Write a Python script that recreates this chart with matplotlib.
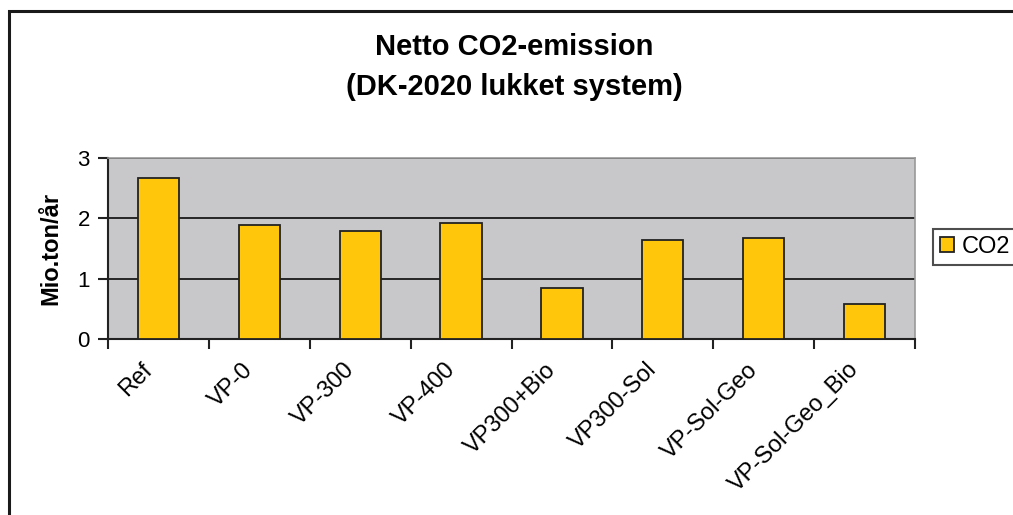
import matplotlib.pyplot as plt
from matplotlib.patches import Rectangle
from matplotlib.transforms import ScaledTranslation
import numpy as np

plt.rcParams["font.family"] = ["Liberation Sans", "DejaVu Sans"]

categories = ["Ref", "VP-0", "VP-300", "VP-400", "VP300+Bio",
              "VP300-Sol", "VP-Sol-Geo", "VP-Sol-Geo_Bio"]
co2 = [2.67, 1.89, 1.79, 1.92, 0.85, 1.64, 1.67, 0.58]
yticks = [0, 1, 2, 3]

fig = plt.figure(figsize=(10.13, 5.15), dpi=100)
fig.patch.set_facecolor("white")

# outer chart frame (cut off at right and bottom as in the source)
fig.patches.append(Rectangle((9 / 1013, -0.05), 1.1, 0.05 + (1 - 11 / 515),
                             transform=fig.transFigure, fill=False,
                             edgecolor="#1a1a1a", linewidth=2.2))

ax = fig.add_axes([108 / 1013, 1 - 339 / 515, (915 - 108) / 1013, (339 - 158) / 515])
ax.set_facecolor("#c8c8ca")

x = np.arange(len(categories))
ax.bar(x, co2, width=0.41, color="#ffc60b", edgecolor="#222222",
       linewidth=1.3, label="CO2", zorder=3)

ax.set_xlim(-0.5, len(categories) - 0.5)
ax.set_ylim(0, 3)
ax.set_yticks(yticks)
ax.set_yticklabels([str(v) for v in yticks], fontsize=16)
for v in yticks[1:]:
    ax.axhline(v, color="#1a1a1a", linewidth=1.3, zorder=2)

ax.set_xticks(x)
ax.set_xticklabels(categories, rotation=45, ha="right", va="top",
                   rotation_mode="anchor", fontsize=17)
ax.set_xticks(np.arange(len(categories) + 1) - 0.5, minor=True)
ax.tick_params(axis="x", which="major", length=0, pad=12)
ax.tick_params(axis="x", which="minor", length=7, width=1.5, color="#222222")
ax.tick_params(axis="y", length=7, width=1.5, color="#222222", pad=6)

# nudge the rotated category labels left, like the Excel original
shift = ScaledTranslation(-17 / 100, -3 / 100, fig.dpi_scale_trans)
for lbl in ax.get_xticklabels():
    lbl.set_transform(lbl.get_transform() + shift)

for side in ["top", "right"]:
    ax.spines[side].set_color("#999999")
    ax.spines[side].set_linewidth(1.2)
for side in ["left", "bottom"]:
    ax.spines[side].set_color("#222222")
    ax.spines[side].set_linewidth(1.5)

ax.set_ylabel("Mio.ton/år", fontsize=17, fontweight="bold", labelpad=11)

fig.text(0.508, 1 - 47 / 515, "Netto CO2-emission", ha="center", va="center",
         fontsize=21, fontweight="bold")
fig.text(0.508, 1 - 87 / 515, "(DK-2020 lukket system)", ha="center", va="center",
         fontsize=21, fontweight="bold")

leg = fig.legend(loc="center left", bbox_to_anchor=(933 / 1013, 1 - 247 / 515),
                 fontsize=17, frameon=True, fancybox=False, handlelength=0.6,
                 handleheight=0.6, handletextpad=0.3, borderpad=0.3,
                 borderaxespad=0)
leg.get_frame().set_edgecolor("#222222")
leg.get_frame().set_linewidth(1.5)

fig.savefig("out.png", dpi=100)
